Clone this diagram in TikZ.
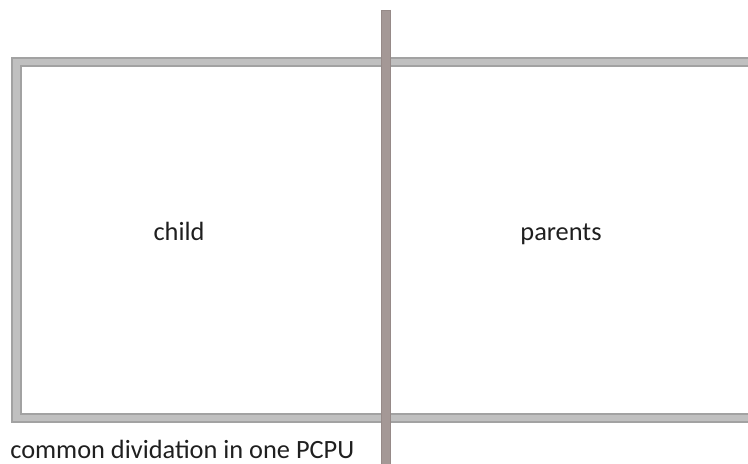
\documentclass[tikz,border=0pt]{standalone}
\usepackage{fontspec}
\setmainfont{Carlito}
\usepackage{tikz}
\usepackage{tkz-euclide}
\usepackage{xcolor}
\definecolor{frameEdge}{RGB}{162,162,162}
\definecolor{frameFill}{RGB}{192,192,192}
\definecolor{barEdge}{RGB}{150,138,136}
\definecolor{barFill}{RGB}{164,152,150}
\tikzset{
frameOut/.style={line width=5.9pt, draw=frameEdge},
frameIn/.style={line width=3.9pt, draw=frameFill},
barOut/.style={line width=5.9pt, draw=barEdge},
barIn/.style={line width=4.3pt, draw=barFill},
label/.style={font=\fontsize{15}{17}\selectfont, text=black!88, inner sep=0pt}
}

\begin{document}
\begin{tikzpicture}
    \useasboundingbox (0,0) rectangle (14.96,9.26);
    \clip (0,0) rectangle (14.96,9.26);
    % open frame
    \tkzDefPoint(15.2,8.02){f_1}
    \tkzDefPoint(0.33,8.02){f_2}
    \tkzDefPoint(0.33,0.90){f_3}
    \tkzDefPoint(15.2,0.90){f_4}
    \draw[frameOut] (f_1) -- (f_2) -- (f_3) -- (f_4);
    \draw[frameIn] (f_1) -- (f_2) -- (f_3) -- (f_4);

    % divider
    \tkzDefPoint(7.72,9.06){d_1}
    \tkzDefPoint(7.72,-0.2){d_2}
    \draw[barOut] (d_1) -- (d_2);
    \draw[barIn] ([yshift=-0.8pt]d_1) -- (d_2);

    \node[label, anchor=base] (child) at (3.58,4.46) {child};
    \node[label, anchor=base] (parents) at (11.22,4.46) {parents};
    \node[label, anchor=base west] (caption) at (0.2,0.1) {common dividation in one PCPU};
\end{tikzpicture}
\end{document}
